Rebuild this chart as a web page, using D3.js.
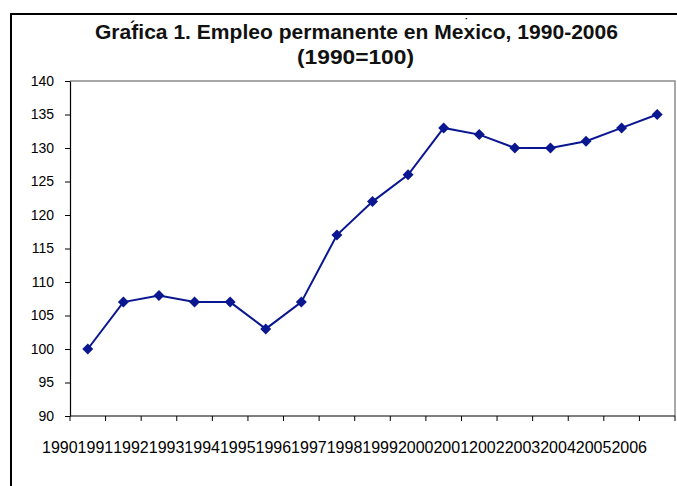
<!DOCTYPE html>
<html>
<head>
<meta charset="utf-8">
<script src="https://cdn.jsdelivr.net/npm/d3@7"></script>
<style>
  body { margin: 0; background: #fff; }
  text { font-family: Arial, "Liberation Sans", sans-serif; }
</style>
</head>
<body>
<div id="chart"></div>
<script>
// data
const years = ["1990", "1991", "1992", "1993", "1994", "1995", "1996", "1997", "1998",
  "1999", "2000", "2001", "2002", "2003", "2004", "2005", "2006"];
const empleo = [100, 107, 108, 107, 107, 103, 107, 117, 122, 126, 133, 132, 130, 130, 131, 133, 135];
const yTicks = [90, 95, 100, 105, 110, 115, 120, 125, 130, 135, 140];

const width = 677, height = 486;
const plot = {left: 70, right: 675, top: 81, bottom: 416};
const navy = "#0a1790";

const svg = d3.select("#chart").append("svg")
  .attr("width", width)
  .attr("height", height);

// outer frame (only top and left visible)
svg.append("path")
  .attr("d", `M11,486 L11,14 L677,14`)
  .attr("fill", "none")
  .attr("stroke", "#000")
  .attr("stroke-width", 2);

// title, stretched wide like the original
const title = svg.append("g")
  .attr("font-weight", "bold")
  .attr("font-size", "19.5px")
  .attr("fill", "#111");
title.append("text").attr("x", 95).attr("y", 38.5)
  .attr("textLength", 523).attr("lengthAdjust", "spacingAndGlyphs")
  .text("Grafica 1. Empleo permanente en Mexico, 1990-2006");
title.append("text").attr("x", 297).attr("y", 63.5)
  .attr("textLength", 117).attr("lengthAdjust", "spacingAndGlyphs")
  .text("(1990=100)");
// stray accent marks sitting above the title
svg.append("text").attr("x", 130).attr("y", 33)
  .attr("font-size", "16px").attr("font-weight", "bold").text("´");
svg.append("text").attr("x", 465).attr("y", 22)
  .attr("font-size", "9px").attr("font-weight", "bold").text("·");

const x = d3.scaleBand()
  .domain(years)
  .range([plot.left, plot.right]);

const y = d3.scaleLinear()
  .domain([90, 140])
  .range([plot.bottom, plot.top]);

// plot area border (grey top / right)
svg.append("path")
  .attr("d", `M${plot.left},${plot.top} L${plot.right},${plot.top} L${plot.right},${plot.bottom}`)
  .attr("fill", "none")
  .attr("stroke", "#8c8c8c")
  .attr("stroke-width", 1.5);

// y axis
const yAxis = svg.append("g")
  .attr("transform", `translate(${plot.left},0)`)
  .call(d3.axisLeft(y).tickValues(yTicks).tickSize(5).tickPadding(11).tickSizeOuter(0));
yAxis.select(".domain").attr("stroke", "#000").attr("stroke-width", 1.2);
yAxis.selectAll("text").attr("font-size", "14px").attr("fill", "#000")
  .attr("font-family", "Arial, 'Liberation Sans', sans-serif");

// x axis: ticks on category boundaries
const xAxis = svg.append("g")
  .attr("transform", `translate(0,${plot.bottom})`);
xAxis.append("line")
  .attr("x1", plot.left).attr("x2", plot.right)
  .attr("stroke", "#000").attr("stroke-width", 1.2);
xAxis.selectAll(".tick")
  .data(years.concat(["end"]))
  .join("line")
  .attr("x1", d => d === "end" ? plot.right : x(d))
  .attr("x2", d => d === "end" ? plot.right : x(d))
  .attr("y1", 0).attr("y2", 5)
  .attr("stroke", "#000");
xAxis.selectAll("text")
  .data(years)
  .join("text")
  .attr("x", d => x(d) + x.bandwidth() / 2 - 28)
  .attr("y", 37)
  .attr("text-anchor", "middle")
  .attr("font-size", "16px")
  .text(d => d);

// line + diamond markers
const line = d3.line()
  .x((d, i) => x(years[i]) + x.bandwidth() / 2)
  .y(d => y(d));

svg.append("path")
  .datum(empleo)
  .attr("fill", "none")
  .attr("stroke", navy)
  .attr("stroke-width", 2)
  .attr("d", line);

svg.append("g")
  .selectAll("path")
  .data(empleo)
  .join("path")
  .attr("d", d3.symbol(d3.symbolSquare, 60))
  .attr("transform", (d, i) => `translate(${x(years[i]) + x.bandwidth() / 2},${y(d)}) rotate(45)`)
  .attr("fill", navy);
</script>
</body>
</html>
